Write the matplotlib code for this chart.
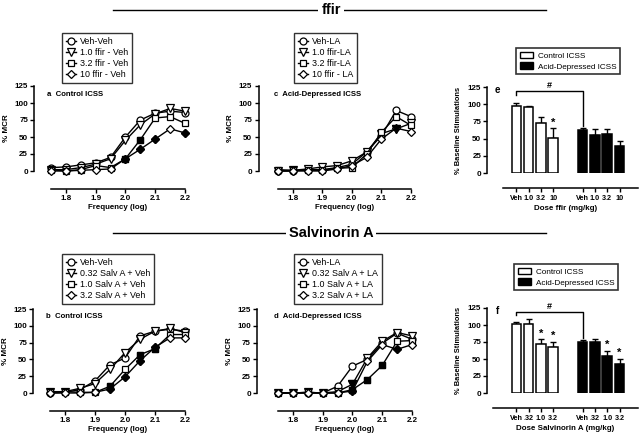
import matplotlib
matplotlib.use("Agg")
import matplotlib.pyplot as plt
import numpy as np
from matplotlib.lines import Line2D
from matplotlib.patches import Patch

plt.rcParams['font.family'] = ['Liberation Sans', 'DejaVu Sans']

# ---- data ----
freq = [1.75, 1.8, 1.85, 1.9, 1.95, 2.0, 2.05, 2.1, 2.15, 2.2]

# panel a: ffir, control ICSS
a_labels = ['Veh-Veh', '1.0 ffir - Veh', '3.2 ffir - Veh', '10 ffir - Veh']
a_veh = [5, 6, 9, 12, 20, 50, 75, 85, 88, 86]
a_1 = [2, 2, 5, 10, 18, 45, 68, 84, 92, 88]
a_32 = [2, 0, 2, 8, 5, 18, 46, 78, 80, 70]
a_10 = [0, 0, 1, 2, 3, 18, 32, 47, 62, 56]
a_sig = [[], [], [5, 6], [5, 6, 7, 9]]

# panel c: ffir, acid-depressed ICSS
c_labels = ['Veh-LA', '1.0 ffir-LA', '3.2 ffir-LA', '10 ffir - LA']
c_veh = [0, 0, 2, 2, 5, 10, 28, 52, 89, 80]
c_1 = [0, 1, 3, 6, 8, 15, 28, 55, 62, 70]
c_32 = [2, 1, 1, 1, 4, 5, 25, 57, 80, 67]
c_10 = [0, 0, 0, 0, 3, 8, 20, 47, 63, 58]
c_sig = [[], [8], [], []]

# panel b: salvinorin A, control ICSS
b_labels = ['Veh-Veh', '0.32 Salv A + Veh', '1.0 Salv A + Veh', '3.2 Salv A + Veh']
b_veh = [0, 1, 5, 18, 42, 52, 85, 92, 95, 92]
b_032 = [1, 2, 7, 14, 35, 60, 80, 92, 96, 90]
b_1 = [2, 2, 1, 1, 10, 35, 57, 66, 87, 87]
b_32 = [0, 0, 0, 1, 6, 24, 48, 68, 82, 82]
b_sig = [[], [], [4, 6, 7], [4, 5, 6, 7]]

# panel d: salvinorin A, acid-depressed ICSS
d_labels = ['Veh-LA', '0.32 Salv A + LA', '1.0 Salv A + LA', '3.2 Salv A + LA']
d_veh = [0, 0, 0, 0, 10, 40, 50, 74, 89, 80]
d_032 = [0, 0, 1, 0, 2, 13, 52, 77, 90, 85]
d_1 = [0, 0, 1, 0, 0, 5, 20, 41, 77, 78]
d_32 = [0, 0, 0, 0, 0, 3, 47, 72, 65, 72]
d_sig = [[], [5], [5, 6, 7], [5, 8]]

# panel e: ffir bars
e_ticks = ['Veh', '1.0', '3.2', '10']
e_ctrl = [98, 96, 73, 51]
e_ctrl_err = [4, 2, 8, 14]
e_acid = [63, 55, 56, 39]
e_acid_err = [3, 9, 8, 7]
e_ctrl_star = [False, False, False, True]
e_acid_star = [False, False, False, False]

# panel f: salvinorin A bars
f_ticks = ['Veh', '.32', '1.0', '3.2']
f_ctrl = [102, 102, 72, 67]
f_ctrl_err = [2, 7, 7, 8]
f_acid = [75, 75, 54, 43]
f_acid_err = [3, 5, 8, 7]
f_ctrl_star = [False, False, True, True]
f_acid_star = [False, False, True, True]

# ---- layout helpers ----
W, H = 640, 434
fig = plt.figure(figsize=(W / 100, H / 100), dpi=100)


def px_axes(l, t, r, b):
    return fig.add_axes([l / W, 1 - b / H, (r - l) / W, (b - t) / H])


def prism_axes(ax, yout, xout, xsize=5.8):
    for s in ['top', 'right']:
        ax.spines[s].set_visible(False)
    ax.spines['left'].set_position(('outward', yout))
    ax.spines['bottom'].set_position(('outward', xout))
    for s in ['left', 'bottom']:
        ax.spines[s].set_linewidth(1.1)
    ax.tick_params(direction='out', length=3, width=1, labelsize=5.8, pad=1.5)
    ax.tick_params(axis='x', labelsize=xsize)
    for lab in ax.get_xticklabels() + ax.get_yticklabels():
        lab.set_fontweight('bold')
    ax.set_ylim(0, 125)
    ax.set_yticks([0, 25, 50, 75, 100, 125])
    ax.patch.set_visible(False)


markers = ['o', 'v', 's', 'D']
msizes = [5.0, 5.2, 4.7, 3.8]


def line_panel(ax, series, sig, title, yout):
    for i, ys in enumerate(series):
        ax.plot(freq, ys, color='black', lw=1, marker=markers[i], ms=msizes[i],
                mfc='white', mec='black', mew=0.9, clip_on=False, zorder=3 + i)
        if sig[i]:
            ax.plot([freq[k] for k in sig[i]], [ys[k] for k in sig[i]], ls='none',
                    marker=markers[i], ms=msizes[i], mfc='black', mec='black',
                    mew=0.9, clip_on=False, zorder=8)
    ax.set_xlim(1.75, 2.2)
    ax.set_xticks([1.8, 1.9, 2.0, 2.1, 2.2])
    prism_axes(ax, yout, 13)
    ax.set_ylabel('% MCR', fontsize=5.8, fontweight='bold', labelpad=3)
    ax.set_xlabel('Frequency (log)', fontsize=5.7, fontweight='bold', labelpad=1.5)
    ax.text(-0.03, 0.905, title, transform=ax.transAxes, fontsize=5.6,
            fontweight='bold', va='center', ha='left')


def line_legend(labels, x, y):
    handles = [Line2D([0], [0], color='black', lw=1, marker=markers[i], ms=msizes[i],
                      mfc='white', mec='black', mew=0.9) for i in range(4)]
    leg = fig.legend(handles, labels, loc='upper left', bbox_to_anchor=(x / W, 1 - y / H),
                     fontsize=6.4, handlelength=1.1, handletextpad=0.5, labelspacing=0.24,
                     borderpad=0.42, frameon=True, fancybox=False, borderaxespad=0)
    leg.get_frame().set_edgecolor('black')
    leg.get_frame().set_linewidth(1)


def bar_legend(x, y):
    handles = [Patch(facecolor='white', edgecolor='black', lw=1),
               Patch(facecolor='black', edgecolor='black', lw=1)]
    leg = fig.legend(handles, ['Control ICSS', 'Acid-Depressed ICSS'], loc='upper left',
                     bbox_to_anchor=(x / W, 1 - y / H), fontsize=5.9, handlelength=1.6,
                     handleheight=0.9, handletextpad=0.6, labelspacing=0.3, borderpad=0.45,
                     frameon=True, fancybox=False, borderaxespad=0)
    leg.get_frame().set_edgecolor('black')
    leg.get_frame().set_linewidth(1.2)


def bar_panel(ax, ticks, ctrl, ctrl_err, acid, acid_err, cstar, astar, letter, xlabel,
              xstart):
    gap = 1.4
    pos_c = np.arange(len(ctrl))
    pos_a = np.arange(len(acid)) + len(ctrl) + gap
    ax.bar(pos_c, ctrl, width=0.78, color='white', edgecolor='black', lw=1.1, zorder=3)
    ax.bar(pos_a, acid, width=0.78, color='black', edgecolor='black', lw=1.1, zorder=3)
    ax.errorbar(pos_c, ctrl, yerr=[np.zeros(len(ctrl)), ctrl_err], fmt='none',
                ecolor='black', elinewidth=1, capsize=2.5, capthick=1, zorder=2)
    ax.errorbar(pos_a, acid, yerr=[np.zeros(len(acid)), acid_err], fmt='none',
                ecolor='black', elinewidth=1, capsize=2.5, capthick=1, zorder=2)
    for p, v, e, s in zip(list(pos_c) + list(pos_a), ctrl + acid, ctrl_err + acid_err,
                          cstar + astar):
        if s:
            ax.text(p, v + e + 1, '*', ha='center', va='bottom', fontsize=8,
                    fontweight='bold')
    ax.set_xlim(-1.9, 9.9)
    ax.set_xticks(list(pos_c) + list(pos_a))
    ax.set_xticklabels(ticks + ticks)
    prism_axes(ax, 4, 11, xsize=5.2)
    ax.spines['bottom'].set_bounds(xstart, 9.9)
    ax.set_ylabel('% Baseline Stimulations', fontsize=5.4, fontweight='bold', labelpad=4)
    ax.set_xlabel(xlabel, fontsize=5.7, fontweight='bold', labelpad=2.5)
    ax.text(0.03, 0.96, letter, transform=ax.transAxes, fontsize=7, fontweight='bold',
            ha='center', va='center')
    # comparison bracket between vehicle groups
    top = 119
    ax.plot([pos_c[0], pos_c[0], pos_a[0], pos_a[0]],
            [top - 5, top, top, acid[0] + acid_err[0] + 3],
            color='black', lw=1, clip_on=False)
    ax.text((pos_c[0] + pos_a[0]) / 2, top + 2, '#', ha='center', va='bottom',
            fontsize=6.5, fontweight='bold')


def section_title(text, y):
    fig.add_artist(Line2D([113 / W, 546 / W], [1 - y / H] * 2, color='black', lw=1))
    fig.text(331 / W, 1 - y / H, text, ha='center', va='center', fontsize=10.5,
             fontweight='bold', bbox=dict(facecolor='white', edgecolor='none', pad=2))


# ---- top row: ffir ----
section_title('ffir', 10)

ax_a = px_axes(51, 86, 185, 171)
line_panel(ax_a, [a_veh, a_1, a_32, a_10], a_sig, 'a  Control ICSS', 12)
line_legend(a_labels, 62, 33)

ax_c = px_axes(278, 86, 411, 171)
line_panel(ax_c, [c_veh, c_1, c_32, c_10], c_sig, 'c  Acid-Depressed ICSS', 14)
line_legend(c_labels, 294, 33)

ax_e = px_axes(493, 87, 638, 173)
bar_panel(ax_e, e_ticks, e_ctrl, e_ctrl_err, e_acid, e_acid_err, e_ctrl_star, e_acid_star,
          'e', 'Dose ffir (mg/kg)', -1.05)
bar_legend(516, 48)

# ---- bottom row: salvinorin A ----
section_title('Salvinorin A', 233)

ax_b = px_axes(50, 309, 185, 393)
line_panel(ax_b, [b_veh, b_032, b_1, b_32], b_sig, 'b  Control ICSS', 12)
line_legend(b_labels, 62, 254)

ax_d = px_axes(278, 309, 412, 393)
line_panel(ax_d, [d_veh, d_032, d_1, d_32], d_sig, 'd  Acid-Depressed ICSS', 15)
line_legend(d_labels, 294, 254)

ax_f = px_axes(493, 308, 638, 393)
bar_panel(ax_f, f_ticks, f_ctrl, f_ctrl_err, f_acid, f_acid_err, f_ctrl_star, f_acid_star,
          'f', 'Dose Salvinorin A (mg/kg)', -1.87)
bar_legend(514, 264)

fig.savefig('out.png', dpi=100)
